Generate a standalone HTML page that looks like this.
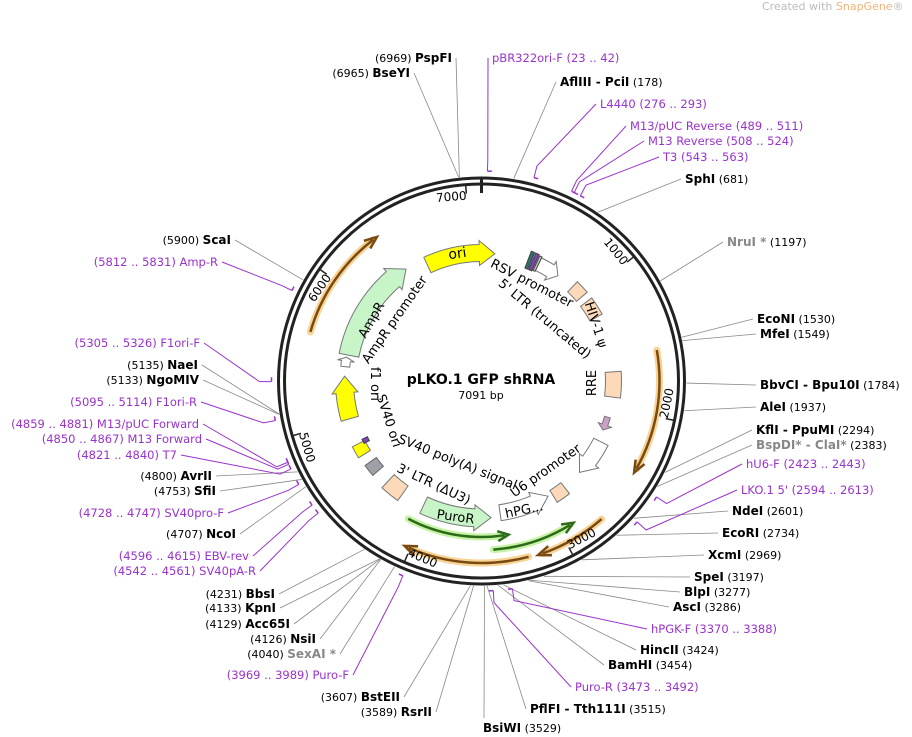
<!DOCTYPE html>
<html><head><meta charset="utf-8"><style>
html,body{margin:0;padding:0;background:#fff;width:912px;height:737px;overflow:hidden}
svg{font-family:"DejaVu Sans","Liberation Sans",sans-serif}
</style></head><body>
<svg id="s" width="912" height="737" viewBox="0 0 912 737" xmlns="http://www.w3.org/2000/svg">
<text x="762" y="10" font-size="11" fill="#bbb">Created with <tspan fill="#f0b27a">SnapGene</tspan>®</text>
<circle cx="481.5" cy="381" r="203" fill="none" stroke="#222" stroke-width="3"/>
<circle cx="481.5" cy="381" r="197" fill="none" stroke="#222" stroke-width="3"/>
<text x="481" y="384" text-anchor="middle" font-size="14" font-weight="bold">pLKO.1 GFP shRNA</text>
<text x="481" y="399" text-anchor="middle" font-size="11">7091 bp</text>
<g id="g"></g>
</svg>
<script>
const NS="http://www.w3.org/2000/svg",g=document.getElementById('g'),cx=481.5,cy=381;
function el(t,a,txt){const e=document.createElementNS(NS,t);for(const k in a)e.setAttribute(k,a[k]);if(txt!==undefined)e.textContent=txt;g.appendChild(e);return e;}
function P(a,r){const t=a*Math.PI/180;return[cx+r*Math.sin(t),cy-r*Math.cos(t)];}
function B(bp){return bp/7091*360;}
function feat(a1,a2,r,w,fill,stroke,arrow){
 const ro=r+w/2,ri=r-w/2;let d;
 const dir=a2>a1?1:-1;const ah=arrow?Math.min(7,Math.abs(a2-a1)*0.4):0;const ae=a2-dir*ah;
 const large=Math.abs(ae-a1)>180?1:0,sw=dir>0?1:0;
 let p1=P(a1,ro),p2=P(ae,ro),p3=P(ae,ri),p4=P(a1,ri);
 d=`M${p1}A${ro},${ro} 0 ${large} ${sw} ${p2}`;
 if(arrow){const q1=P(ae,ro+4),q2=P(a2,r),q3=P(ae,ri-4);d+=`L${q1}L${q2}L${q3}L${p3}`;}else d+=`L${p3}`;
 d+=`A${ri},${ri} 0 ${large} ${1-sw} ${p4}Z`;
 el('path',{d,fill,stroke,'stroke-width':1});
}
function arcLine(a1,a2,r,col,glow){
 const dir=a2>a1?1:-1,large=Math.abs(a2-a1)>180?1:0,sw=dir>0?1:0;
 const p1=P(a1,r),p2=P(a2-dir*1.5,r);
 const d=`M${p1}A${r},${r} 0 ${large} ${sw} ${p2}`;
 el('path',{d,fill:'none',stroke:glow,'stroke-width':7,'stroke-linecap':'round',opacity:.8});
 el('path',{d,fill:'none',stroke:col,'stroke-width':2.5});
 const t=P(a2,r),b1=P(a2-dir*4,r+5),b2=P(a2-dir*4,r-5);
 el('path',{d:`M${b1}L${t}L${b2}`,fill:'none',stroke:col,'stroke-width':2.5});
}
arcLine(-74,-36,178,'#7a4a10','#f5c87a');
arcLine(80,121,178,'#7a4a10','#f5c87a');
arcLine(139,162,183,'#7a4a10','#f5c87a');
arcLine(165,205,182,'#7a4a10','#f5c87a');
arcLine(208,170,156,'#2d6a1a','#b8f090');
arcLine(176,147,169,'#2d6a1a','#b8f090');
feat(-25,6,128,17,'#ffff00','#777',true);
feat(-79,-34,135,20,'#c8f5c8','#777',true);
feat(-84,-80,137,9,'#fff','#777',true);
feat(-106,-88,137,18,'#ffff00','#777',true);
feat(-122,-117,138,14,'#ffff00','#777',false);
feat(-131,-126,137,14,'#a0a0a8','#666',false);
feat(-145,-137,137,18,'#fcd9b8','#777',false);
feat(205,176,137,18,'#c8f5c8','#777',true);
feat(172,150,133,16,'#fff','#777',true);
feat(148,142,136,14,'#fcd9b8','#777',false);
feat(117,133,134,16,'#fff','#777',true);
feat(106,112,131,6,'#c8a0c8','#777',true);
feat(86,97,132,16,'#fcd9b8','#777',false);
feat(44,50,131,14,'#fcd9b8','#777',false);
feat(53,61,131,14,'#fcd9b8','#777',false);
feat(26,36,130,14,'#fff','#777',true);
feat(21,22.5,130,18,'#2f6f6f','#444',false);feat(23,24.5,130,18,'#8040c0','#444',false);feat(25,26,130,16,'#ccc','#444',false);
feat(-118,-116,130,6,'#8040c0','#444',false);
for(const k of [1000,2000,3000,4000,5000,6000,7000]){const a=B(k);const p1=P(a,198),p2=P(a,188);
 el('line',{x1:p1[0],y1:p1[1],x2:p2[0],y2:p2[1],stroke:'#222','stroke-width':1.5});
 const q=P(a,186);let rot=a,anc='end';if(a>90&&a<270){rot=a-180;anc='start';}
 el('text',{x:q[0],y:q[1],'font-size':12,'text-anchor':anc,transform:`rotate(${rot} ${q[0]} ${q[1]})`,dy:'4'},String(k));}
{const p1=P(0,204),p2=P(0,188);el('line',{x1:p1[0],y1:p1[1],x2:p2[0],y2:p2[1],stroke:'#222','stroke-width':3});}
function tl(x,y,rot,t,fs){el('text',{x,y,'font-size':fs||13,'text-anchor':'middle',transform:`rotate(${rot} ${x} ${y})`},t);}
tl(458,258,-8,'ori',14);tl(530,287,27,'RSV promoter');tl(542,322,40,"5' LTR (truncated)");
tl(592,326,72,'HIV-1 ψ');tl(596,383,-90,'RRE');tl(375,322,-60,'AmpR');tl(398,322,-55,'AmpR promoter');
tl(371,384,90,'f1 ori');tl(385,422,72,'SV40 ori');tl(456,466,22,'SV40 poly(A) signal');tl(432,488,25,"3' LTR (ΔU3)");
tl(548,474,-35,'U6 promoter');tl(525,514,-12,'hPG...');tl(455,521,8,'PuroR');
const R=[[757,323,'EcoNI','(1530)',1530],[760,338,'MfeI','(1549)',1549],[760,389,'BbvCI - Bpu10I','(1784)',1784],[760,411,'AleI','(1937)',1937],
[756,434,'KflI - PpuMI','(2294)',2294],[756,449,'BspDI* - ClaI*','(2383)',2383,'#888'],[732,515,'NdeI','(2601)',2601],[722,537,'EcoRI','(2734)',2734],
[708,559,'XcmI','(2969)',2969],[694,581,'SpeI','(3197)',3197],[684,596,'BlpI','(3277)',3277],[673,611,'AscI','(3286)',3286],[640,654,'HincII','(3424)',3424],
[608,669,'BamHI','(3454)',3454],[530,713,'PflFI - Tth111I','(3515)',3515],[560,86,'AflIII - PciI','(178)',178],[685,183,'SphI','(681)',681],[727,246,'NruI *','(1197)',1197,'#888']];
for(const r of R){const c=r[5]||'#000';const t=el('text',{x:r[0],y:r[1],'font-size':12});
 const a=document.createElementNS(NS,'tspan');a.setAttribute('font-weight','bold');a.setAttribute('fill',c);a.textContent=r[2];t.appendChild(a);
 const b=document.createElementNS(NS,'tspan');b.setAttribute('font-size','11');b.textContent='  '+r[3];t.appendChild(b);
 const p=P(B(r[4]),205);el('line',{x1:r[0]-4,y1:r[1]-4,x2:p[0],y2:p[1],stroke:'#888','stroke-width':.8});}
const L=[[231,244,'ScaI','(5900)',5900],[198,369,'NaeI','(5135)',5135],[199,384,'NgoMIV','(5133)',5133],[212,480,'AvrII','(4800)',4800],[216,495,'SfiI','(4753)',4753],
[236,538,'NcoI','(4707)',4707],[275,598,'BbsI','(4231)',4231],[276,612,'KpnI','(4133)',4133],[290,628,'Acc65I','(4129)',4129],[316,643,'NsiI','(4126)',4126],
[336,658,'SexAI *','(4040)',4040,'#888'],[400,701,'BstEII','(3607)',3607],[432,716,'RsrII','(3589)',3589],[410,77,'BseYI','(6965)',6965],[452,62,'PspFI','(6969)',6969]];
for(const r of L){const c=r[5]||'#000';const t=el('text',{x:r[0],y:r[1],'font-size':12,'text-anchor':'end'});
 const b=document.createElementNS(NS,'tspan');b.setAttribute('font-size','11');b.textContent=r[3]+'  ';t.appendChild(b);
 const a=document.createElementNS(NS,'tspan');a.setAttribute('font-weight','bold');a.setAttribute('fill',c);a.textContent=r[2];t.appendChild(a);
 const p=P(B(r[4]),205);el('line',{x1:r[0]+4,y1:r[1]-4,x2:p[0],y2:p[1],stroke:'#888','stroke-width':.8});}
el('text',{x:483,y:732,'font-size':12},'').innerHTML='<tspan font-weight="bold">BsiWI</tspan><tspan font-size="11">  (3529)</tspan>';
{const p=P(B(3529),205);el('line',{x1:484,y1:718,x2:p[0],y2:p[1],stroke:'#888','stroke-width':.8});}
const PR=[[492,62,'pBR322ori-F  (23 .. 42)',32,0],[600,108,'L4440  (276 .. 293)',285,0],[630,130,'M13/pUC Reverse  (489 .. 511)',500,0],[648,145,'M13 Reverse  (508 .. 524)',516,0],
[663,161,'T3  (543 .. 563)',553,0],[746,468,'hU6-F  (2423 .. 2443)',2433,0],[741,494,"LKO.1 5'  (2594 .. 2613)",2603,0],[651,633,'hPGK-F  (3370 .. 3388)',3379,0],
[575,691,'Puro-R  (3473 .. 3492)',3482,0],[349,679,'(3969 .. 3989)  Puro-F',3979,1],[256,575,'(4542 .. 4561)  SV40pA-R',4551,1],[249,560,'(4596 .. 4615)  EBV-rev',4605,1],
[224,517,'(4728 .. 4747)  SV40pro-F',4737,1],[177,459,'(4821 .. 4840)  T7',4830,1],[202,443,'(4850 .. 4867)  M13 Forward',4858,1],[199,428,'(4859 .. 4881)  M13/pUC Forward',4870,1],
[197,406,'(5095 .. 5114)  F1ori-R',5104,1],[200,347,'(5305 .. 5326)  F1ori-F',5315,1],[218,266,'(5812 .. 5831)  Amp-R',5821,1]];
for(const r of PR){el('text',{x:r[0],y:r[1],'font-size':11.5,fill:'#9a32cd','text-anchor':r[4]?'end':'start'},r[2]);
 const p=P(B(r[3]),210),p2=P(B(r[3]),222);const sx=r[4]?r[0]+4:r[0]-4;
 el('polyline',{points:`${sx},${r[1]-4} ${p2} ${p}`,fill:'none',stroke:'#9a32cd','stroke-width':1});
 const q=P(B(r[3])+1.2,210);el('line',{x1:p[0],y1:p[1],x2:q[0],y2:q[1],stroke:'#9a32cd','stroke-width':1.5});}
</script>
</body></html>
